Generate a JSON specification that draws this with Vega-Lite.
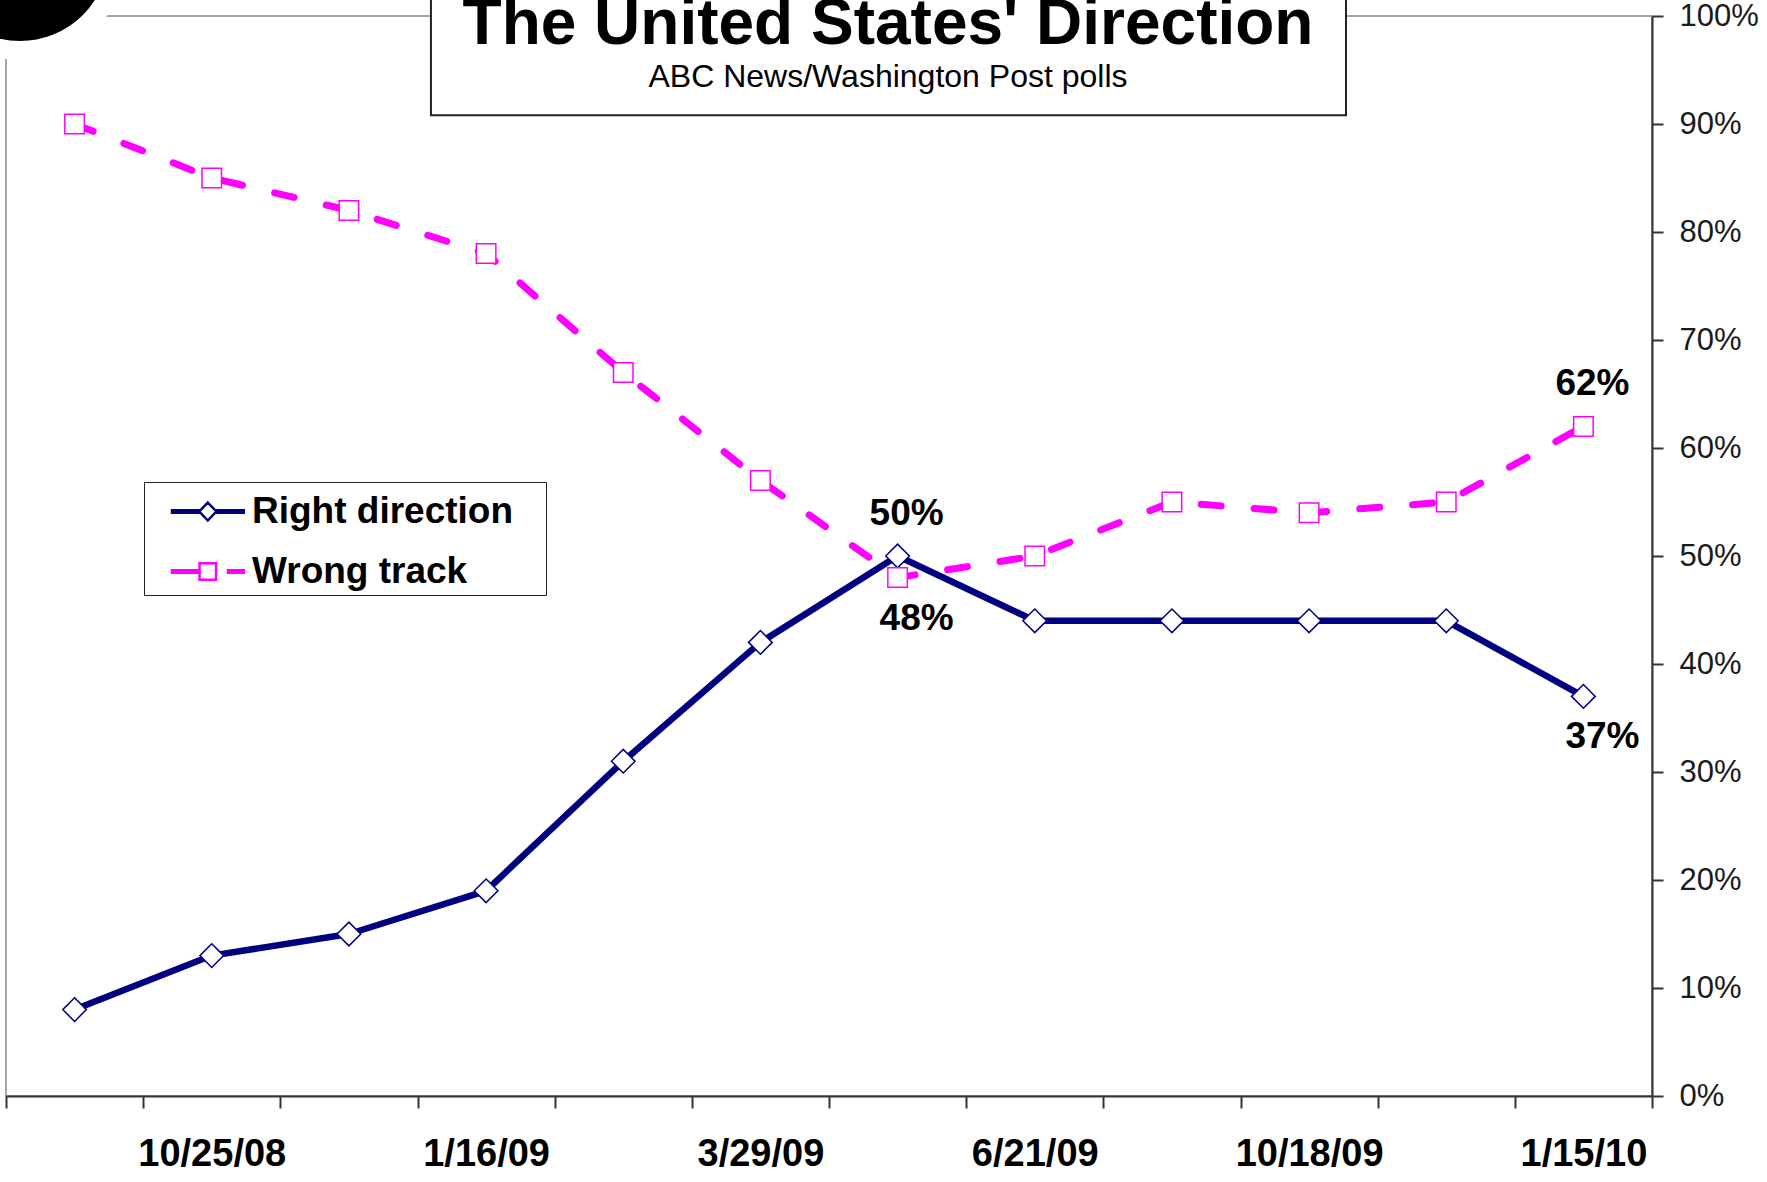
{
  "$schema": "https://vega.github.io/schema/vega-lite/v6.json",
  "width": 1646,
  "height": 1080,
  "autosize": {"type": "none"},
  "padding": {"left": 6, "top": 16, "right": 115, "bottom": 86},
  "background": "white",
  "config": {"view": {"stroke": "#a6a6a6", "strokeWidth": 2}, "font": "Liberation Sans"},
  "title": {
    "text": "The United States' Direction",
    "subtitle": "ABC News/Washington Post polls",
    "orient": "top",
    "anchor": "middle",
    "frame": "group",
    "offset": -278,
    "dx": 59,
    "font": "Liberation Sans",
    "fontSize": 64,
    "fontWeight": "bold",
    "color": "black",
    "subtitleFont": "Liberation Sans",
    "subtitleFontSize": 32,
    "subtitleFontWeight": "normal",
    "subtitleColor": "black",
    "subtitlePadding": 5
  },
  "data": {
    "values": [
      {"date": "10/11/08", "series": "Right direction", "value": 8},
      {"date": "10/25/08", "series": "Right direction", "value": 13},
      {"date": "12/14/08", "series": "Right direction", "value": 15},
      {"date": "1/16/09", "series": "Right direction", "value": 19},
      {"date": "2/22/09", "series": "Right direction", "value": 31},
      {"date": "3/29/09", "series": "Right direction", "value": 42},
      {"date": "4/24/09", "series": "Right direction", "value": 50, "label": "50%"},
      {"date": "6/21/09", "series": "Right direction", "value": 44},
      {"date": "8/17/09", "series": "Right direction", "value": 44},
      {"date": "10/18/09", "series": "Right direction", "value": 44},
      {"date": "11/15/09", "series": "Right direction", "value": 44},
      {"date": "1/15/10", "series": "Right direction", "value": 37, "label": "37%"},
      {"date": "10/11/08", "series": "Wrong track", "value": 90},
      {"date": "10/25/08", "series": "Wrong track", "value": 85},
      {"date": "12/14/08", "series": "Wrong track", "value": 82},
      {"date": "1/16/09", "series": "Wrong track", "value": 78},
      {"date": "2/22/09", "series": "Wrong track", "value": 67},
      {"date": "3/29/09", "series": "Wrong track", "value": 57},
      {"date": "4/24/09", "series": "Wrong track", "value": 48, "label": "48%"},
      {"date": "6/21/09", "series": "Wrong track", "value": 50},
      {"date": "8/17/09", "series": "Wrong track", "value": 55},
      {"date": "10/18/09", "series": "Wrong track", "value": 54},
      {"date": "11/15/09", "series": "Wrong track", "value": 55},
      {"date": "1/15/10", "series": "Wrong track", "value": 62, "label": "62%"}
    ]
  },
  "resolve": {"scale": {"x": "independent"}},
  "layer": [
    {
      "data": {"values": [{}]},
      "mark": {"type": "rect", "fill": "white", "stroke": "#222222", "strokeWidth": 2},
      "encoding": {
        "x": {"datum": 3.098, "type": "quantitative", "scale": {"domain": [0, 12], "nice": false}, "axis": null},
        "x2": {"datum": 9.769},
        "y": {"datum": 90.8, "type": "quantitative", "scale": {"domain": [0, 100], "nice": false}},
        "y2": {"datum": 104}
      }
    },
    {
      "data": {"values": [{}]},
      "mark": {"type": "point", "shape": "circle", "filled": true, "fill": "black", "stroke": "white", "strokeWidth": 19, "size": 38809, "opacity": 1},
      "encoding": {
        "x": {"datum": 0.102, "type": "quantitative", "scale": {"domain": [0, 12], "nice": false}, "axis": null},
        "y": {"datum": 105.93, "type": "quantitative", "scale": {"domain": [0, 100], "nice": false}}
      }
    },
    {
      "resolve": {"scale": {"stroke": "independent", "shape": "independent"}},
      "layer": [
        {
          "transform": [{"filter": "datum.series === 'Right direction'"}],
          "mark": {"type": "line", "strokeWidth": 6.5, "strokeCap": "round", "strokeJoin": "round"},
          "encoding": {
            "x": {
              "field": "date", "type": "ordinal", "sort": null, "bandPosition": 0.5,
              "scale": {"type": "band", "domain": ["10/11/08", "10/25/08", "12/14/08", "1/16/09", "2/22/09", "3/29/09", "4/24/09", "6/21/09", "8/17/09", "10/18/09", "11/15/09", "1/15/10"], "paddingInner": 0, "paddingOuter": 0},
              "axis": {
                "title": null, "orient": "bottom",
                "labelExpr": "indexof(['10/25/08','1/16/09','3/29/09','6/21/09','10/18/09','1/15/10'], datum.value) >= 0 ? datum.value : ''",
                "labelFont": "Liberation Sans", "labelFontSize": 38, "labelFontWeight": "bold", "labelColor": "black",
                "labelAngle": 0, "labelPadding": 27, "labelOverlap": false, "labelBound": false, "labelFlush": false,
                "tickBand": "extent", "tickSize": 12, "tickWidth": 2, "tickColor": "#333333",
                "domainColor": "#333333", "domainWidth": 2, "grid": false
              }
            },
            "y": {
              "field": "value", "type": "quantitative",
              "scale": {"domain": [0, 100], "nice": false},
              "axis": {
                "title": null, "orient": "right",
                "values": [0, 10, 20, 30, 40, 50, 60, 70, 80, 90, 100],
                "labelExpr": "datum.value + '%'",
                "labelFont": "Liberation Sans", "labelFontSize": 31, "labelColor": "#1a1a1a",
                "labelPadding": 16, "labelBound": false, "labelFlush": false,
                "tickSize": 11, "tickWidth": 2, "tickColor": "#333333",
                "domainColor": "#333333", "domainWidth": 2, "grid": false
              }
            },
            "stroke": {"field": "series", "type": "nominal", "scale": {"domain": ["Right direction", "Wrong track"], "range": ["#000080", "#ff00ff"]}, "legend": null}
          }
        },
        {
          "transform": [{"filter": "datum.series === 'Right direction'"}],
          "mark": {"type": "point", "shape": "diamond", "size": 560, "filled": true, "fill": "white", "strokeWidth": 1.5, "opacity": 1},
          "encoding": {
            "x": {"field": "date", "type": "ordinal", "sort": null, "bandPosition": 0.5},
            "y": {"field": "value", "type": "quantitative"},
            "stroke": {"field": "series", "type": "nominal", "scale": {"domain": ["Right direction", "Wrong track"], "range": ["#000080", "#ff00ff"]}, "legend": null}
          }
        },
        {
          "transform": [{"filter": "datum.series === 'Wrong track'"}],
          "mark": {"type": "line", "strokeWidth": 7, "strokeDash": [20, 33], "strokeCap": "round", "strokeJoin": "round"},
          "encoding": {
            "x": {"field": "date", "type": "ordinal", "sort": null, "bandPosition": 0.5},
            "y": {"field": "value", "type": "quantitative"},
            "stroke": {"field": "series", "type": "nominal", "scale": {"domain": ["Right direction", "Wrong track"], "range": ["#000080", "#ff00ff"]}, "legend": null}
          }
        },
        {
          "transform": [{"filter": "datum.series === 'Wrong track'"}],
          "mark": {"type": "point", "shape": "square", "size": 380, "filled": true, "fill": "white", "strokeWidth": 1.5, "opacity": 1},
          "encoding": {
            "x": {"field": "date", "type": "ordinal", "sort": null, "bandPosition": 0.5},
            "y": {"field": "value", "type": "quantitative"},
            "stroke": {"field": "series", "type": "nominal", "scale": {"domain": ["Right direction", "Wrong track"], "range": ["#000080", "#ff00ff"]}, "legend": null}
          }
        },
        {
          "transform": [{"filter": "datum.label === '50%' || datum.label === '62%'"}],
          "mark": {"type": "text", "font": "Liberation Sans", "fontSize": 37, "fontWeight": "bold", "fill": "black", "align": "center", "baseline": "alphabetic", "dx": 9, "dy": -31},
          "encoding": {
            "x": {"field": "date", "type": "ordinal", "sort": null, "bandPosition": 0.5},
            "y": {"field": "value", "type": "quantitative"},
            "text": {"field": "label", "type": "nominal"}
          }
        },
        {
          "transform": [{"filter": "datum.label === '48%' || datum.label === '37%'"}],
          "mark": {"type": "text", "font": "Liberation Sans", "fontSize": 37, "fontWeight": "bold", "fill": "black", "align": "center", "baseline": "alphabetic", "dx": 19, "dy": 52},
          "encoding": {
            "x": {"field": "date", "type": "ordinal", "sort": null, "bandPosition": 0.5},
            "y": {"field": "value", "type": "quantitative"},
            "text": {"field": "label", "type": "nominal"}
          }
        },
        {
          "transform": [{"filter": "false"}],
          "mark": {"type": "point", "filled": true, "fill": "white", "strokeWidth": 2.5, "opacity": 1},
          "encoding": {
            "x": {"field": "date", "type": "ordinal", "sort": null, "bandPosition": 0.5},
            "y": {"field": "value", "type": "quantitative"},
            "shape": {
              "field": "series", "type": "nominal",
              "scale": {
                "domain": ["Right direction", "Wrong track"],
                "range": [
                  "M-0.065,-0.052H1.121V0.052H-0.065Z M1.861,-0.052H3.054V0.052H1.861Z M1.491,-0.391L1.861,0L1.491,0.391L1.121,0Z",
                  "M-0.065,-0.052H1.132V0.052H-0.065Z M2.37,-0.052H3.054V0.052H2.37Z M1.132,-0.359H1.85V0.359H1.132Z"
                ]
              },
              "legend": {
                "title": null, "orient": "none", "legendX": 138, "legendY": 466, "direction": "vertical",
                "symbolSize": 2116, "symbolStrokeWidth": 2.5, "symbolFillColor": "white",
                "labelFont": "Liberation Sans", "labelFontSize": 37, "labelFontWeight": "bold", "labelColor": "black",
                "labelOffset": 54, "labelLimit": 600, "rowPadding": 17, "padding": 5,
                "strokeColor": "#222222", "fillColor": "white",
                "labelExpr": "datum.label + '\u2800'"
              }
            },
            "stroke": {
              "field": "series", "type": "nominal",
              "scale": {"domain": ["Right direction", "Wrong track"], "range": ["#000080", "#ff00ff"]},
              "legend": {
                "title": null, "orient": "none", "legendX": 138, "legendY": 466, "direction": "vertical",
                "symbolSize": 2116, "symbolStrokeWidth": 2.5, "symbolFillColor": "white",
                "labelFont": "Liberation Sans", "labelFontSize": 37, "labelFontWeight": "bold", "labelColor": "black",
                "labelOffset": 54, "labelLimit": 600, "rowPadding": 17, "padding": 5,
                "strokeColor": "#222222", "fillColor": "white",
                "labelExpr": "datum.label + '\u2800'"
              }
            }
          }
        }
      ]
    }
  ]
}
